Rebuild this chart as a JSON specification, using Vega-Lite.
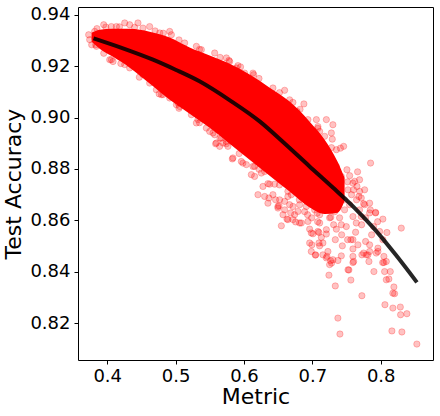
{
  "$schema": "https://vega.github.io/schema/vega-lite/v6.json",
  "width": 355,
  "height": 353,
  "autosize": {"type": "none"},
  "padding": {"left": 78, "top": 7, "right": 7, "bottom": 56},
  "background": "white",
  "config": {
    "font": "DejaVu Sans",
    "view": {"stroke": "#000", "strokeWidth": 1},
    "axis": {"grid": false, "domain": false, "tickColor": "#000", "tickSize": 4, "tickWidth": 1, "labelColor": "#000", "titleColor": "#000", "labelFontSize": 18, "titleFontSize": 22, "titleFontWeight": "normal", "labelFont": "DejaVu Sans", "titleFont": "DejaVu Sans"}
  },
  "datasets": {
    "band": [
      {"m": 0.3773, "hi": 0.9330, "lo": 0.9295},
      {"m": 0.3890, "hi": 0.9342, "lo": 0.9268},
      {"m": 0.4080, "hi": 0.93455, "lo": 0.9237},
      {"m": 0.4329, "hi": 0.93455, "lo": 0.9194},
      {"m": 0.4621, "hi": 0.9334, "lo": 0.9132},
      {"m": 0.4914, "hi": 0.9311, "lo": 0.9069},
      {"m": 0.5206, "hi": 0.9272, "lo": 0.9015},
      {"m": 0.5499, "hi": 0.9241, "lo": 0.8960},
      {"m": 0.5791, "hi": 0.9209, "lo": 0.8898},
      {"m": 0.6083, "hi": 0.9167, "lo": 0.8836},
      {"m": 0.6376, "hi": 0.9116, "lo": 0.8774},
      {"m": 0.6668, "hi": 0.9062, "lo": 0.8712},
      {"m": 0.6961, "hi": 0.8984, "lo": 0.8650},
      {"m": 0.7180, "hi": 0.8914, "lo": 0.8625},
      {"m": 0.7370, "hi": 0.8828, "lo": 0.8630},
      {"m": 0.7472, "hi": 0.8765, "lo": 0.8675}
    ],
    "fit": [
      {"m": 0.380, "a": 0.9308},
      {"m": 0.420, "a": 0.9272},
      {"m": 0.467, "a": 0.9225},
      {"m": 0.500, "a": 0.9186},
      {"m": 0.535, "a": 0.9141},
      {"m": 0.580, "a": 0.9066},
      {"m": 0.623, "a": 0.8985},
      {"m": 0.660, "a": 0.8898},
      {"m": 0.696, "a": 0.8810},
      {"m": 0.730, "a": 0.8728},
      {"m": 0.762, "a": 0.8648},
      {"m": 0.791, "a": 0.8566},
      {"m": 0.822, "a": 0.8466},
      {"m": 0.853, "a": 0.8359}
    ],
    "cloud": [
      {"m":0.3817,"a":0.9335},{"m":0.3832,"a":0.9283},{"m":0.3817,"a":0.9309},{"m":0.3949,"a":0.9361},{"m":0.4061,"a":0.9354},{"m":0.4135,"a":0.9354},{"m":0.4256,"a":0.9368},{"m":0.4329,"a":0.9361},{"m":0.4450,"a":0.9368},{"m":0.4523,"a":0.9348},{"m":0.4621,"a":0.9354},{"m":0.4768,"a":0.9329},{"m":0.4914,"a":0.9335},{"m":0.4939,"a":0.9322},{"m":0.5133,"a":0.9290},{"m":0.5304,"a":0.9277},{"m":0.5377,"a":0.9264},{"m":0.5572,"a":0.9251},{"m":0.5743,"a":0.9232},{"m":0.5781,"a":0.9222},{"m":0.5889,"a":0.9193},{"m":0.5912,"a":0.9202},{"m":0.6010,"a":0.9173},{"m":0.6132,"a":0.9173},{"m":0.6142,"a":0.9167},{"m":0.6424,"a":0.9115},{"m":0.6595,"a":0.9106},{"m":0.6668,"a":0.9069},{"m":0.6716,"a":0.9059},{"m":0.6775,"a":0.9024},{"m":0.6877,"a":0.9053},{"m":0.6936,"a":0.8992},{"m":0.7059,"a":0.8992},{"m":0.7082,"a":0.8965},{"m":0.7107,"a":0.8946},{"m":0.7180,"a":0.8927},{"m":0.7205,"a":0.8992},{"m":0.7301,"a":0.8972},{"m":0.7278,"a":0.8940},{"m":0.7292,"a":0.8916},{"m":0.7458,"a":0.8888},{"m":0.7411,"a":0.8881},{"m":0.7352,"a":0.8875},{"m":0.7352,"a":0.8810},{"m":0.7424,"a":0.8771},{"m":0.7399,"a":0.8745},{"m":0.7506,"a":0.8797},{"m":0.7546,"a":0.8774},{"m":0.7619,"a":0.8752},{"m":0.7653,"a":0.8732},{"m":0.7522,"a":0.8719},{"m":0.7594,"a":0.8745},{"m":0.7692,"a":0.8713},{"m":0.7681,"a":0.8693},{"m":0.7716,"a":0.8687},{"m":0.7750,"a":0.8665},{"m":0.7848,"a":0.8641},{"m":0.7926,"a":0.8631},{"m":0.8032,"a":0.8605},{"m":0.7852,"a":0.8823},{"m":0.8301,"a":0.8570},
      {"m":0.6547,"a":0.8579},{"m":0.6571,"a":0.8622},{"m":0.6629,"a":0.8605},{"m":0.6756,"a":0.8594},{"m":0.6839,"a":0.8590},{"m":0.6497,"a":0.8648},{"m":0.6961,"a":0.8566},{"m":0.7009,"a":0.8548},{"m":0.7097,"a":0.8553},{"m":0.6994,"a":0.8505},{"m":0.6985,"a":0.8479},{"m":0.7044,"a":0.8465},{"m":0.7107,"a":0.8501},{"m":0.7155,"a":0.8512},{"m":0.7205,"a":0.8547},{"m":0.7228,"a":0.8479},{"m":0.7214,"a":0.8460},{"m":0.7268,"a":0.8443},{"m":0.7282,"a":0.8434},{"m":0.7374,"a":0.8444},{"m":0.7424,"a":0.8462},{"m":0.7336,"a":0.8525},{"m":0.7439,"a":0.8501},{"m":0.7243,"a":0.8387},{"m":0.7336,"a":0.8345},{"m":0.7535,"a":0.8407},{"m":0.7564,"a":0.8368},{"m":0.7594,"a":0.8460},{"m":0.7594,"a":0.8436},{"m":0.7594,"a":0.8525},{"m":0.7667,"a":0.8505},{"m":0.7725,"a":0.8307},{"m":0.7725,"a":0.8466},{"m":0.7790,"a":0.8466},{"m":0.7828,"a":0.8440},{"m":0.7901,"a":0.8401},{"m":0.7959,"a":0.8479},{"m":0.7959,"a":0.8492},{"m":0.8047,"a":0.8460},{"m":0.8047,"a":0.8436},{"m":0.8057,"a":0.8401},{"m":0.8140,"a":0.8401},{"m":0.8120,"a":0.8372},{"m":0.8193,"a":0.8341},{"m":0.8178,"a":0.8317},{"m":0.8062,"a":0.8272},{"m":0.8178,"a":0.8259},{"m":0.8287,"a":0.8263},{"m":0.8291,"a":0.8233},{"m":0.8383,"a":0.8237},{"m":0.7374,"a":0.8220},{"m":0.7404,"a":0.8158},{"m":0.8164,"a":0.8170},{"m":0.8310,"a":0.8166},{"m":0.8529,"a":0.8119},{"m":0.7984,"a":0.8557},{"m":0.7896,"a":0.8576},{"m":0.8091,"a":0.8553},{"m":0.8032,"a":0.8525},{"m":0.7765,"a":0.8661},{"m":0.7838,"a":0.8629},{"m":0.7925,"a":0.8629},{"m":0.7564,"a":0.8525},{"m":0.7594,"a":0.8489},{"m":0.7779,"a":0.8518},{"m":0.7838,"a":0.8505},{"m":0.7838,"a":0.8479},{"m":0.7205,"a":0.8454},{"m":0.7301,"a":0.8447},{"m":0.7155,"a":0.8466},{"m":0.7424,"a":0.8583},{"m":0.7351,"a":0.8566},{"m":0.7497,"a":0.8576},{"m":0.7643,"a":0.8590},{"m":0.7594,"a":0.8615},{"m":0.7716,"a":0.8615},{"m":0.7838,"a":0.8667},{"m":0.6684,"a":0.8629},{"m":0.6814,"a":0.8590},{"m":0.6643,"a":0.8603},{"m":0.6985,"a":0.8551},{"m":0.7097,"a":0.8512},{"m":0.6961,"a":0.8512},{"m":0.7049,"a":0.8466},{"m":0.7253,"a":0.8428},{"m":0.7522,"a":0.8408},{"m":0.8082,"a":0.8369},{"m":0.8203,"a":0.8315},{"m":0.8029,"a":0.8436},{"m":0.8082,"a":0.8440},{"m":0.7935,"a":0.8473},{"m":0.7813,"a":0.8466},{"m":0.7750,"a":0.8473},{"m":0.7604,"a":0.8440},
      {"m":0.6278,"a":0.8732},{"m":0.6376,"a":0.8741},{"m":0.6449,"a":0.8741},{"m":0.6303,"a":0.8693},{"m":0.6424,"a":0.8700},{"m":0.6522,"a":0.8680},{"m":0.6351,"a":0.8667},{"m":0.6497,"a":0.8654},{"m":0.6595,"a":0.8674},{"m":0.6643,"a":0.8693},{"m":0.6717,"a":0.8654},{"m":0.6912,"a":0.8654},{"m":0.5830,"a":0.8839},{"m":0.5962,"a":0.8829},{"m":0.5985,"a":0.8823},{"m":0.6108,"a":0.8778},{"m":0.6156,"a":0.8771},{"m":0.6254,"a":0.8784},{"m":0.6303,"a":0.8790},{"m":0.6205,"a":0.8700},{"m":0.6351,"a":0.8743},{"m":0.6366,"a":0.8687},{"m":0.6513,"a":0.8657},{"m":0.6717,"a":0.8603},{"m":0.6790,"a":0.8635},{"m":0.6936,"a":0.8596},{"m":0.7082,"a":0.8557},{"m":0.7107,"a":0.8590},{"m":0.7205,"a":0.8564},{"m":0.7132,"a":0.8534},{"m":0.5693,"a":0.8901},{"m":0.5743,"a":0.8907},{"m":0.6132,"a":0.8810},{"m":0.6643,"a":0.8713},{"m":0.6693,"a":0.8700},{"m":0.4816,"a":0.9089},{"m":0.4914,"a":0.9076},{"m":0.5035,"a":0.9057},{"m":0.5060,"a":0.9043},{"m":0.5231,"a":0.9011},{"m":0.5304,"a":0.8979},{"m":0.5327,"a":0.8992},{"m":0.5450,"a":0.8959},{"m":0.5499,"a":0.8946},{"m":0.5597,"a":0.8901},{"m":0.5645,"a":0.8888},{"m":0.5766,"a":0.8888},{"m":0.5839,"a":0.8843},{"m":0.6035,"a":0.8817},{"m":0.6156,"a":0.8810},{"m":0.4719,"a":0.9108},{"m":0.4621,"a":0.9134},{"m":0.5304,"a":0.9018},{"m":0.5572,"a":0.8933},{"m":0.5670,"a":0.8920},{"m":0.5743,"a":0.8898},{"m":0.4061,"a":0.9225},{"m":0.4085,"a":0.9218},{"m":0.4256,"a":0.9206},{"m":0.4329,"a":0.9193},{"m":0.4523,"a":0.9167},{"m":0.4621,"a":0.9154},{"m":0.4792,"a":0.9089},{"m":0.5012,"a":0.9050},{"m":0.5158,"a":0.9043},{"m":0.3842,"a":0.9277},{"m":0.4037,"a":0.9225},{"m":0.5586,"a":0.8898},{"m":0.5547,"a":0.8940},{"m":0.3744,"a":0.9303},{"m":0.3729,"a":0.9322},{"m":0.3773,"a":0.9283},{"m":0.5791,"a":0.9218},
      {"m":0.6814,"a":0.8661},{"m":0.6887,"a":0.8634},{"m":0.7034,"a":0.8641},{"m":0.7107,"a":0.8622},{"m":0.7180,"a":0.8641},{"m":0.7253,"a":0.8610},{"m":0.7326,"a":0.8634},{"m":0.7399,"a":0.8610},{"m":0.7472,"a":0.8641},{"m":0.7545,"a":0.8661},{"m":0.7472,"a":0.8680},{"m":0.7574,"a":0.8700},{"m":0.6990,"a":0.8610},{"m":0.6741,"a":0.8622},{"m":0.7253,"a":0.8661},{"m":0.7370,"a":0.8700},{"m":0.7136,"a":0.8680},{"m":0.6931,"a":0.8622},{"m":0.7078,"a":0.8595},{"m":0.7312,"a":0.8583},{"m":0.7429,"a":0.8544},{"m":0.7516,"a":0.8525},{"m":0.7633,"a":0.8554},{"m":0.7691,"a":0.8641},{"m":0.7647,"a":0.8680},{"m":0.7721,"a":0.8583},{"m":0.7779,"a":0.8610},{"m":0.7867,"a":0.8544},{"m":0.7955,"a":0.8595},{"m":0.6595,"a":0.8641},{"m":0.6668,"a":0.8661},{"m":0.6463,"a":0.8680},{"m":0.6814,"a":0.8700},{"m":0.6961,"a":0.8680},{"m":0.7603,"a":0.8719},{"m":0.7516,"a":0.8750},{"m":0.7691,"a":0.8758},{"m":0.7765,"a":0.8719},{"m":0.7662,"a":0.8789},
      {"m":0.385,"a":0.9346},{"m":0.398,"a":0.9352},{"m":0.418,"a":0.9353},{"m":0.440,"a":0.9351},{"m":0.470,"a":0.9337},{"m":0.482,"a":0.9328},{"m":0.505,"a":0.9302},{"m":0.535,"a":0.9265},{"m":0.565,"a":0.9234},{"m":0.595,"a":0.9197},{"m":0.622,"a":0.9152},{"m":0.652,"a":0.9097},{"m":0.682,"a":0.9032},{"m":0.708,"a":0.8958},{"m":0.728,"a":0.8883},
      {"m":0.395,"a":0.9250},{"m":0.420,"a":0.9210},{"m":0.447,"a":0.9157},{"m":0.476,"a":0.9092},{"m":0.505,"a":0.9036},{"m":0.535,"a":0.8980},{"m":0.565,"a":0.8920},{"m":0.593,"a":0.8860},{"m":0.622,"a":0.8799},{"m":0.652,"a":0.8738},{"m":0.681,"a":0.8680},{"m":0.707,"a":0.8628},{"m":0.727,"a":0.8612}
    ]
  },
  "layer": [
    {
      "data": {"name": "band"},
      "mark": {"type": "area", "color": "#ff0000", "interpolate": "monotone", "opacity": 1},
      "encoding": {
        "x": {"field": "m", "type": "quantitative", "scale": {"domain": [0.3573, 0.8765], "nice": false, "zero": false}, "axis": {"values": [0.4, 0.5, 0.6, 0.7, 0.8], "format": ".1f", "title": "Metric", "labelPadding": 3, "titlePadding": 1}},
        "y": {"field": "hi", "type": "quantitative", "scale": {"domain": [0.8057, 0.943], "nice": false, "zero": false}, "axis": {"values": [0.82, 0.84, 0.86, 0.88, 0.9, 0.92, 0.94], "format": ".2f", "title": "Test Accuracy", "labelPadding": 4, "titlePadding": 4}},
        "y2": {"field": "lo"}
      }
    },
    {
      "data": {"name": "cloud"},
      "mark": {"type": "point", "shape": "circle", "filled": true, "size": 40, "fill": "#ff0000", "stroke": "#ff0000", "strokeWidth": 1, "fillOpacity": 0.24, "strokeOpacity": 0.24},
      "encoding": {
        "x": {"field": "m", "type": "quantitative"},
        "y": {"field": "a", "type": "quantitative"}
      }
    },
    {
      "data": {"name": "fit"},
      "mark": {"type": "line", "color": "#000000", "strokeWidth": 4, "opacity": 0.85, "interpolate": "monotone"},
      "encoding": {
        "x": {"field": "m", "type": "quantitative"},
        "y": {"field": "a", "type": "quantitative"}
      }
    }
  ]
}
